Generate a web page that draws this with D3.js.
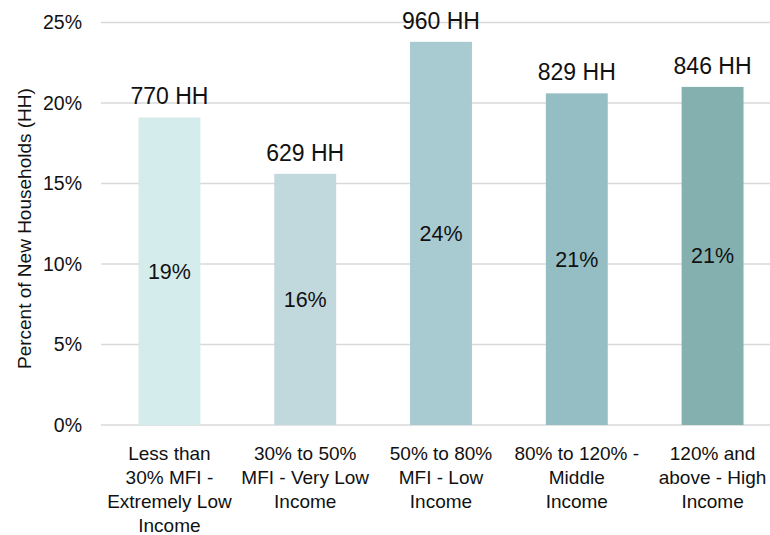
<!DOCTYPE html>
<html>
<head>
<meta charset="utf-8">
<script src="https://cdn.jsdelivr.net/npm/d3@7"></script>
<style>
  body { margin: 0; background: #fff; }
  text { fill: #111; font-family: "Liberation Sans", Arial, sans-serif; }
</style>
</head>
<body>
<script>
var categories = [
  ["Less than", "30% MFI -", "Extremely Low", "Income"],
  ["30% to 50%", "MFI - Very Low", "Income"],
  ["50% to 80%", "MFI - Low", "Income"],
  ["80% to 120% -", "Middle", "Income"],
  ["120% and", "above - High", "Income"]
];
var shares = [19.1, 15.6, 23.8, 20.6, 21.0];
var households = [770, 629, 960, 829, 846];
var shareLabels = ["19%", "16%", "24%", "21%", "21%"];
var colors = ["#d5ecec", "#c1d9dc", "#a8cad1", "#94bec4", "#84b1b0"];
var yTicks = [0, 5, 10, 15, 20, 25];

var width = 770, height = 535;
var margin = {top: 22.5, bottom: 110, left: 101};

var svg = d3.select("body").append("svg")
  .attr("width", width)
  .attr("height", height);

// bands run a little past the right edge, like the original
var x = d3.scaleBand()
  .domain(d3.range(categories.length))
  .range([margin.left, 781])
  .paddingInner(0.544)
  .paddingOuter(0.276);

var y = d3.scaleLinear()
  .domain([0, 25])
  .range([height - margin.bottom, margin.top]);

// grid
svg.append("g")
  .selectAll("line")
  .data(yTicks)
  .enter().append("line")
  .attr("x1", margin.left)
  .attr("x2", width)
  .attr("y1", d => y(d))
  .attr("y2", d => y(d))
  .style("stroke", "#d9d9d9")
  .style("stroke-width", 1.5);

// y tick labels
svg.append("g")
  .selectAll("text")
  .data(yTicks)
  .enter().append("text")
  .attr("x", 82)
  .attr("y", d => y(d))
  .attr("dy", "0.35em")
  .attr("text-anchor", "end")
  .style("font-size", "19.5px")
  .text(d => d + "%");

// y axis title
svg.append("text")
  .attr("transform", "translate(31," + y(12.2) + ") rotate(-90)")
  .attr("text-anchor", "middle")
  .style("font-size", "19px")
  .text("Percent of New Households (HH)");

var bars = svg.append("g")
  .selectAll("g")
  .data(shares)
  .enter().append("g");

bars.append("rect")
  .attr("x", (d, i) => x(i))
  .attr("y", d => y(d))
  .attr("width", x.bandwidth())
  .attr("height", d => y(0) - y(d))
  .style("fill", (d, i) => colors[i]);

// HH labels above bars
bars.append("text")
  .attr("x", (d, i) => x(i) + x.bandwidth() / 2)
  .attr("y", d => y(d) - 13)
  .attr("text-anchor", "middle")
  .style("font-size", "23px")
  .text((d, i) => households[i] + " HH");

// percent labels inside bars
bars.append("text")
  .attr("x", (d, i) => x(i) + x.bandwidth() / 2)
  .attr("y", d => (y(d) + y(0)) / 2)
  .attr("dy", "0.35em")
  .attr("text-anchor", "middle")
  .style("font-size", "21.5px")
  .text((d, i) => shareLabels[i]);

// category labels
var cat = svg.append("g")
  .selectAll("text")
  .data(categories)
  .enter().append("text")
  .attr("x", (d, i) => x(i) + x.bandwidth() / 2)
  .attr("y", 460)
  .attr("text-anchor", "middle")
  .style("font-size", "19px");

cat.selectAll("tspan")
  .data(d => d)
  .enter().append("tspan")
  .attr("x", function() { return d3.select(this.parentNode).attr("x"); })
  .attr("dy", (d, i) => i === 0 ? 0 : 24)
  .text(d => d);
</script>
</body>
</html>
